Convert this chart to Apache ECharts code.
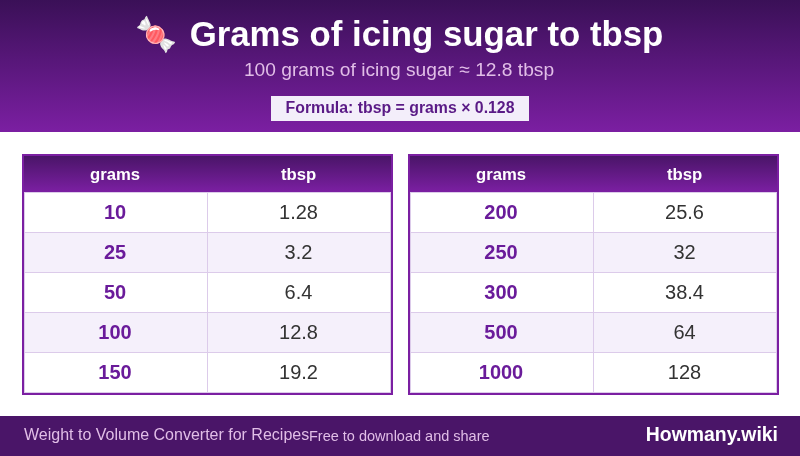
<!DOCTYPE html>
<html lang="en">
<head>
<meta charset="utf-8" />
<title>Grams of icing sugar to tbsp</title>
<style>
    html, body { margin: 0; padding: 0; background: #fff; }
    #main { width: 800px; height: 456px; }
</style>
</head>
<body>
<div id="main"></div>
<script src="https://cdn.jsdelivr.net/npm/echarts@6/dist/echarts.min.js"></script>
<script type="text/javascript">
    var titleText = 'Grams of icing sugar to tbsp';
    var subtitleText = '100 grams of icing sugar ≈ 12.8 tbsp';
    var formulaText = 'Formula: tbsp = grams × 0.128';
    var footerLeft = 'Weight to Volume Converter for Recipes';
    var footerMiddle = 'Free to download and share';
    var footerRight = 'Howmany.wiki';
    var columnNames = ['grams', 'tbsp'];
    var leftGrams = ['10', '25', '50', '100', '150'];
    var leftTbsp = ['1.28', '3.2', '6.4', '12.8', '19.2'];
    var rightGrams = ['200', '250', '300', '500', '1000'];
    var rightTbsp = ['25.6', '32', '38.4', '64', '128'];

    var FONT = '"Liberation Sans", Arial, sans-serif';
    var DARK = '#4a1568';
    var PURPLE = '#7b1fa2';
    var LINE = '#dccbea';

    function grad(c1, c2) {
        return new echarts.graphic.LinearGradient(0, 0, 0, 1, [
            {offset: 0, color: c1},
            {offset: 1, color: c2}
        ]);
    }

    function rect(x, y, w, h, fill) {
        return {type: 'rect', shape: {x: x, y: y, width: w, height: h}, style: {fill: fill}};
    }

    function label(x, y, text, size, weight, color, align) {
        return {
            type: 'text', x: x, y: y,
            style: {
                text: text, fill: color,
                font: weight + ' ' + size + 'px ' + FONT,
                textAlign: align || 'center', textVerticalAlign: 'middle'
            }
        };
    }

    // one table: outer border, header band, striped rows, grid lines
    function buildTable(x, grams, tbsp) {
        var items = [];
        var top = 154, width = 371, rowH = 40, headH = 38;
        var mid = x + 185;
        items.push(rect(x, top, width, 241, PURPLE));
        items.push(rect(x + 2, top + 2, width - 4, 237, '#ffffff'));
        items.push(rect(x + 2, top + 2, width - 4, headH - 2, grad(DARK, PURPLE)));
        items.push(label(x + 93, 175, columnNames[0], 16.7, 'bold', '#ffffff'));
        items.push(label(x + 276.5, 175, columnNames[1], 16.7, 'bold', '#ffffff'));
        for (var i = 0; i < grams.length; i++) {
            var y = top + headH + i * rowH;
            if (i % 2 === 1) {
                items.push(rect(x + 2, y, width - 4, rowH, '#f5f0fb'));
            }
            items.push(rect(mid, y, 1, rowH, LINE));
            items.push(label(x + 93, y + 21, grams[i], 20, 'bold', '#6a1b9a'));
            items.push(label(x + 276.5, y + 21, tbsp[i], 20, 'normal', '#333333'));
        }
        for (var j = 0; j <= grams.length; j++) {
            items.push(rect(x + 2, top + headH + j * rowH, width - 4, 1, LINE));
        }
        items.push(rect(x + 2, top + headH, 1, 201, LINE));
        items.push(rect(x + width - 3, top + headH, 1, 201, LINE));
        return items;
    }

    var elements = [];
    elements.push(rect(0, 0, 800, 132, grad('#3a1057', PURPLE)));
    elements.push(label(156, 37, '🍬', 34, 'normal', '#ffffff'));
    elements.push(label(426.5, 36.5, titleText, 34.8, 'bold', '#ffffff'));
    elements.push(label(399, 70.5, subtitleText, 19.2, 'normal', '#e1bee7'));
    elements.push(rect(271, 96, 258, 25, '#f3eefa'));
    elements.push(label(400, 108.5, formulaText, 15.85, 'bold', '#5a1a86'));
    elements = elements.concat(buildTable(22, leftGrams, leftTbsp));
    elements = elements.concat(buildTable(408, rightGrams, rightTbsp));
    elements.push(rect(0, 416, 800, 40, '#4a1568'));
    elements.push(label(24, 436, footerLeft, 16, 'normal', '#e1bee7', 'left'));
    elements.push(label(309, 436.5, footerMiddle, 14.5, 'normal', '#e1bee7', 'left'));
    elements.push(label(778, 435.5, footerRight, 19.4, 'bold', '#ffffff', 'right'));

    var myChart = echarts.init(document.getElementById('main'));
    myChart.setOption({
        animation: false,
        graphic: {elements: elements}
    });
</script>
</body>
</html>
